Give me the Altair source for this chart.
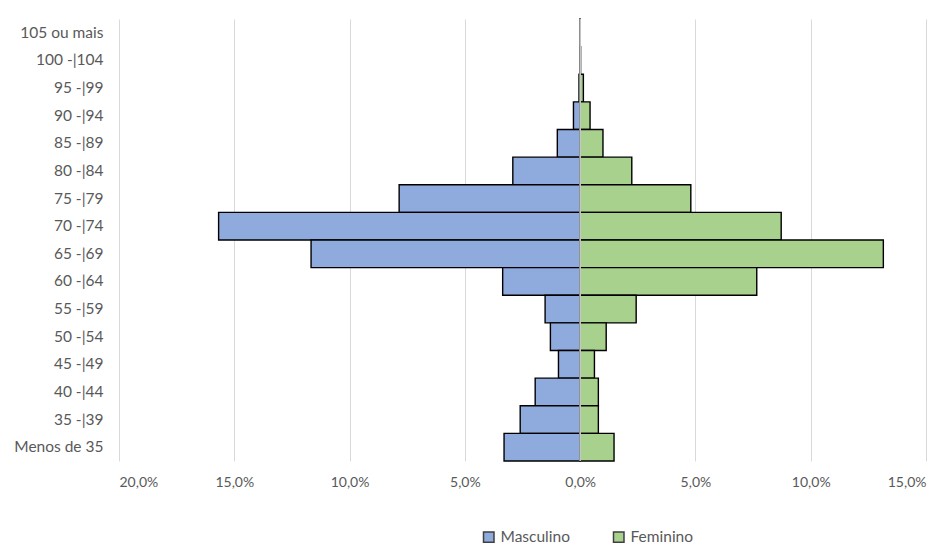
import altair as alt
import pandas as pd

# Faixas etárias, de cima para baixo
faixas = [
    "105 ou mais", "100 -|104", "95 -|99", "90 -|94", "85 -|89", "80 -|84",
    "75 -|79", "70 -|74", "65 -|69", "60 -|64", "55 -|59", "50 -|54",
    "45 -|49", "40 -|44", "35 -|39", "Menos de 35",
]
# Percentuais por sexo
masculino = [0.01, 0.02, 0.05, 0.29, 0.99, 2.92, 7.85, 15.68, 11.67, 3.36,
             1.52, 1.29, 0.94, 1.95, 2.60, 3.30]
feminino = [0.00, 0.02, 0.14, 0.43, 0.99, 2.24, 4.80, 8.72, 13.15, 7.66,
            2.43, 1.13, 0.62, 0.79, 0.79, 1.47]
sexos = ["Masculino", "Feminino"]
cores = ["#8faadc", "#a9d18e"]
ticks = [-20, -15, -10, -5, 0, 5, 10, 15]

rows = []
for f, m, w in zip(faixas, masculino, feminino):
    rows.append({"faixa": f, "sexo": "Masculino", "pct": m})
    rows.append({"faixa": f, "sexo": "Feminino", "pct": w})
df = pd.DataFrame(rows)

FONT = "Lato"
GRAY = "#595959"

base = alt.Chart(df).transform_calculate(
    valor="datum.sexo === 'Masculino' ? -datum.pct : datum.pct"
)

bars = base.mark_bar(stroke="#000000", strokeWidth=1.4).encode(
    x=alt.X(
        "valor:Q",
        scale=alt.Scale(domain=[-20, 15], nice=False, zero=True),
        axis=alt.Axis(
            values=ticks,
            labelExpr="replace(format(abs(datum.value), '.1f'), '.', ',') + '%'",
            title=None,
            domain=False,
            ticks=False,
            grid=True,
            gridColor="#d9d9d9",
            gridWidth=1,
            labelFont=FONT,
            labelFontSize=14,
            labelColor=GRAY,
            labelPadding=14,
        ),
    ),
    y=alt.Y(
        "faixa:N",
        sort=faixas,
        scale=alt.Scale(paddingInner=0, paddingOuter=0),
        axis=alt.Axis(
            title=None,
            domain=False,
            ticks=False,
            labelFont=FONT,
            labelFontSize=15.5,
            labelColor=GRAY,
            labelPadding=16,
        ),
    ),
    color=alt.Color(
        "sexo:N",
        scale=alt.Scale(domain=sexos, range=cores),
        legend=alt.Legend(
            title=None,
            orient="none",
            legendX=362,
            legendY=510,
            direction="horizontal",
            symbolType="square",
            symbolSize=110,
            symbolStrokeColor="#404040",
            symbolStrokeWidth=1.5,
            labelFont=FONT,
            labelFontSize=15.5,
            labelColor=GRAY,
            labelOffset=4,
            columnPadding=40,
        ),
    ),
)

zero_line = alt.Chart(pd.DataFrame({"x": [0]})).mark_rule(
    color="#dcdcdc", strokeWidth=1.5
).encode(x=alt.X("x:Q"))

chart = (
    alt.layer(bars, zero_line)
    .properties(
        width=807,
        height=442,
        autosize=alt.AutoSizeParams(type="none"),
        padding={"left": 119, "top": 19, "right": 22, "bottom": 86},
        background="#ffffff",
    )
    .configure_view(stroke=None)
)

chart.save("out.html", embed_options={"renderer": "svg", "actions": False})
